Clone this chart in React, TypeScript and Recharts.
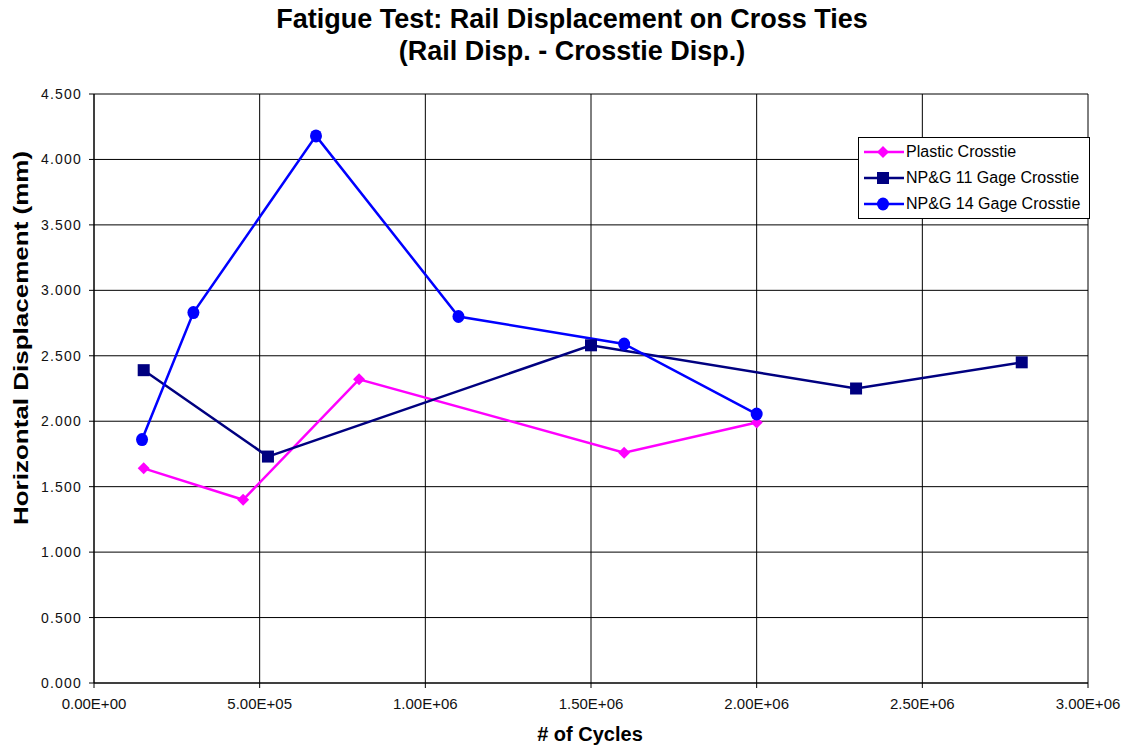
import React from "react";
import { LineChart, Line, XAxis, YAxis, CartesianGrid } from "recharts";

const plasticCycles = [150000, 450000, 800000, 1600000, 2000000];
const plasticDisp = [1.64, 1.40, 2.32, 1.76, 1.99];
const gage11Cycles = [150000, 525000, 1500000, 2300000, 2800000];
const gage11Disp = [2.39, 1.73, 2.58, 2.25, 2.45];
const gage14Cycles = [145000, 300000, 670000, 1100000, 1600000, 2000000];
const gage14Disp = [1.86, 2.83, 4.18, 2.80, 2.59, 2.055];
const xTicks = [0, 500000, 1000000, 1500000, 2000000, 2500000, 3000000];
const yTicks = [0, 0.5, 1, 1.5, 2, 2.5, 3, 3.5, 4, 4.5];

const zip = (xs: number[], ys: number[]) => xs.map((x, i) => ({ x, y: ys[i] }));
const plasticData = zip(plasticCycles, plasticDisp);
const gage11Data = zip(gage11Cycles, gage11Disp);
const gage14Data = zip(gage14Cycles, gage14Disp);

const FONT = "'Liberation Sans', Arial, sans-serif";

const fmtExp = (v: number) => {
  if (v === 0) return "0.00E+00";
  const e = Math.floor(Math.log10(Math.abs(v)) + 1e-9);
  const m = v / Math.pow(10, e);
  return `${m.toFixed(2)}E+${String(e).padStart(2, "0")}`;
};

const Diamond = (props: any) => {
  const { cx, cy, fill } = props;
  if (cx == null || cy == null) return null;
  const r = 6;
  return <path d={`M${cx},${cy - r}L${cx + r},${cy}L${cx},${cy + r}L${cx - r},${cy}Z`} fill={fill} />;
};
const Square = (props: any) => {
  const { cx, cy, fill } = props;
  if (cx == null || cy == null) return null;
  return <rect x={cx - 6} y={cy - 6} width={12} height={12} fill={fill} />;
};
const Circle = (props: any) => {
  const { cx, cy, fill } = props;
  if (cx == null || cy == null) return null;
  return <ellipse cx={cx} cy={cy} rx={6} ry={6.5} fill={fill} />;
};

const series = [
  { name: "Plastic Crosstie", color: "#FF00FF", data: plasticData, Dot: Diamond },
  { name: "NP&G 11 Gage Crosstie", color: "#000080", data: gage11Data, Dot: Square },
  { name: "NP&G 14 Gage Crosstie", color: "#0000FF", data: gage14Data, Dot: Circle },
];

const LegendBox = () => (
  <div
    style={{
      position: "absolute",
      left: 858,
      top: 137,
      border: "1px solid #000",
      background: "#fff",
      width: 230,
      height: 79,
      fontFamily: FONT,
      fontSize: 16,
      color: "#000",
      paddingTop: 1,
      boxSizing: "content-box",
    }}
  >
    {series.map((s, i) => (
      <div key={i} style={{ height: 26, display: "flex", alignItems: "center" }}>
        <svg width={42} height={14} style={{ marginLeft: 5 }}>
          <line x1={0} y1={7} x2={40} y2={7} stroke={s.color} strokeWidth={2.5} />
          <s.Dot cx={19} cy={7} fill={s.color} />
        </svg>
        <span style={{ marginLeft: 0 }}>{s.name}</span>
      </div>
    ))}
  </div>
);

export default function App() {
  return (
    <div style={{ position: "absolute", left: 0, top: 0, width: 1128, height: 750, background: "#fff" }}>
      <LineChart
        width={1128}
        height={750}
        margin={{ top: 94, right: 40, left: 34, bottom: 37 }}
        style={{ position: "absolute", left: 0, top: 0 }}
      >
        <CartesianGrid stroke="#000" strokeWidth={1} horizontal vertical />
        <XAxis
          type="number"
          dataKey="x"
          domain={[0, 3000000]}
          ticks={xTicks}
          tickFormatter={fmtExp}
          stroke="#000"
          tickSize={5}
          tickMargin={10}
          height={30}
          allowDataOverflow
          tick={{ fill: "#111", fontSize: 15, fontFamily: FONT }}
        />
        <YAxis
          type="number"
          domain={[0, 4.5]}
          ticks={yTicks}
          tickFormatter={(v: number) => v.toFixed(3)}
          stroke="#000"
          tickSize={5}
          tickMargin={7}
          width={60}
          tick={{ fill: "#111", fontSize: 14, fontFamily: FONT, letterSpacing: 1.2 }}
        />
        {series.map((s, i) => (
          <Line
            key={i}
            data={s.data}
            dataKey="y"
            name={s.name}
            type="linear"
            stroke={s.color}
            strokeWidth={2.5}
            dot={(p: any) => <s.Dot key={p.index} cx={p.cx} cy={p.cy} fill={s.color} />}
            activeDot={false}
            isAnimationActive={false}
          />
        ))}
      </LineChart>
      <div
        style={{
          position: "absolute",
          left: 0,
          top: 3,
          width: 1144,
          textAlign: "center",
          fontFamily: FONT,
          fontWeight: "bold",
          fontSize: 27,
          lineHeight: "32px",
        }}
      >
        <div>Fatigue Test: Rail Displacement on Cross Ties</div>
        <div>(Rail Disp. - Crosstie Disp.)</div>
      </div>
      <div
        style={{
          position: "absolute",
          left: 390,
          top: 722,
          width: 400,
          textAlign: "center",
          fontFamily: FONT,
          fontWeight: "bold",
          fontSize: 20,
          lineHeight: "24px",
        }}
      >
        # of Cycles
      </div>
      <div
        style={{
          position: "absolute",
          left: 21 - 200,
          top: 338 - 12,
          width: 400,
          height: 24,
          lineHeight: "24px",
          textAlign: "center",
          transform: "rotate(-90deg) scaleX(1.3)",
          fontFamily: FONT,
          fontWeight: "bold",
          fontSize: 20,
        }}
      >
        Horizontal Displacement (mm)
      </div>
      <LegendBox />
    </div>
  );
}
